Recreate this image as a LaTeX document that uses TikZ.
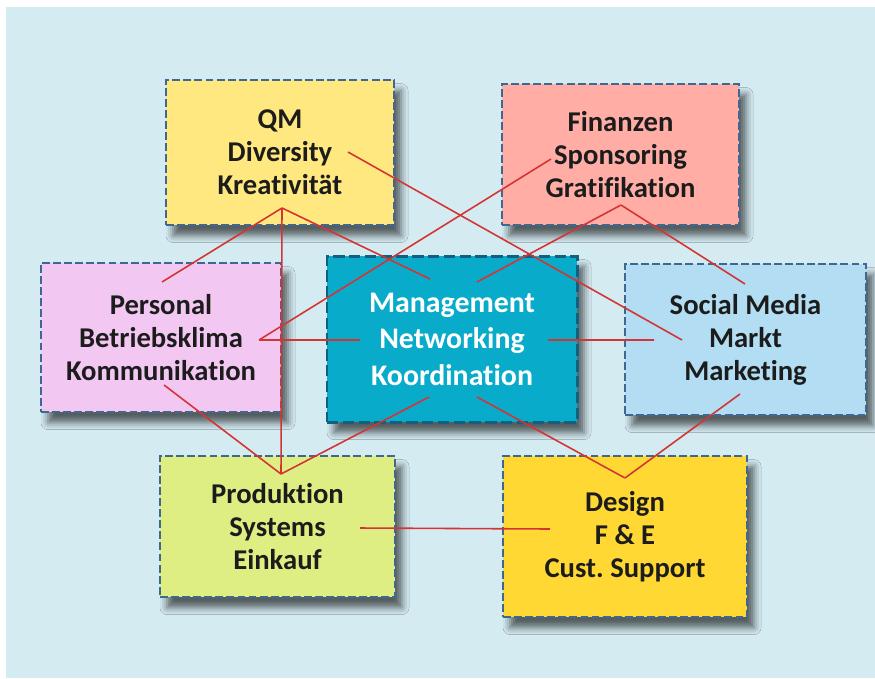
\documentclass[tikz,border=0pt]{standalone}
\usepackage{fontspec}
\setmainfont{Carlito}[Ligatures=NoCommon]
\usetikzlibrary{calc,shadows.blur}
\definecolor{bgblue}{RGB}{212,235,242}
\definecolor{boxline}{RGB}{62,104,146}
\definecolor{manline}{RGB}{18,96,128}
\definecolor{linkred}{RGB}{212,52,52}
\definecolor{txt}{RGB}{28,28,28}
\definecolor{qmyellow}{RGB}{255,232,128}
\definecolor{finpink}{RGB}{255,173,165}
\definecolor{perlilac}{RGB}{242,200,242}
\definecolor{manteal}{RGB}{8,172,202}
\definecolor{socblue}{RGB}{178,221,242}
\definecolor{progreen}{RGB}{222,238,130}
\definecolor{desgold}{RGB}{255,216,52}
\tikzset{
	box/.style={rectangle,draw=boxline,line width=1.1pt,dash pattern=on 4.5pt off 1.8pt,
		align=center,text=txt,font=\bfseries\fontsize{16.3}{18.8}\selectfont,
		blur shadow={shadow xshift=4pt,shadow yshift=-6pt,shadow blur radius=4pt,shadow opacity=60}},
	mainbox/.style={box,draw=manline,line width=1.7pt,dash pattern=on 6.5pt off 2.5pt,
		text=white,font=\bfseries\fontsize{17}{20.8}\selectfont},
	edge/.style={color=linkred, line width=0.9pt}
}
\begin{document}
\begin{tikzpicture}
	\useasboundingbox (0,0) rectangle (17.5,-13.56);
	\fill[bgblue] (0.12,-0.14) rectangle (17.5,-13.56);
	
	\node[box,fill=qmyellow,minimum width=4.56cm,minimum height=2.9cm] (QM) at (5.6,-3.05) {QM\\Diversity\\Kreativität};
	\node[box,fill=finpink,minimum width=4.74cm,minimum height=2.82cm] (FIN) at (12.41,-3.09) {Finanzen\\Sponsoring\\Gratifikation};
	\node[box,fill=perlilac,minimum width=4.8cm,minimum height=2.98cm] (PER) at (3.22,-6.75) {Personal\\Betriebsklima\\Kommunikation};
	\node[mainbox,fill=manteal,minimum width=5cm,minimum height=3.32cm] (MAN) at (9.04,-6.78) {Management\\Networking\\Koordination};
	\node[box,fill=socblue,minimum width=4.82cm,minimum height=3.02cm] (SOC) at (14.91,-6.79) {Social Media\\Markt\\Marketing};
	\node[box,fill=progreen,minimum width=4.7cm,minimum height=2.82cm] (PRO) at (5.55,-10.53) {Produktion\\Systems\\Einkauf};
	\node[box,fill=desgold,minimum width=4.88cm,minimum height=3.22cm] (DES) at (12.5,-10.73) {Design\\F \& E\\Cust.\ Support};
	
	% link points inside the boxes
	\coordinate (QMb) at ($(QM)+(0.04,-1.11)$);
	\coordinate (QMr) at ($(QM)+(1.36,0.01)$);
	\coordinate (FINl) at ($(FIN)+(-1.39,-0.09)$);
	\coordinate (FINb) at ($(FIN)+(0.01,-1.01)$);
	\coordinate (PERt) at ($(PER)+(0.02,1.11)$);
	\coordinate (PERr) at ($(PER)+(1.96,-0.05)$);
	\coordinate (PERb) at ($(PER)+(0.06,-0.95)$);
	\coordinate (MANtl) at ($(MAN)+(-0.44,1.2)$);
	\coordinate (MANtr) at ($(MAN)+(0.5,1.14)$);
	\coordinate (MANl) at ($(MAN)+(-1.84,-0.02)$);
	\coordinate (MANr) at ($(MAN)+(1.92,-0.02)$);
	\coordinate (MANbl) at ($(MAN)+(-0.46,-1.16)$);
	\coordinate (MANbr) at ($(MAN)+(0.5,-1.16)$);
	\coordinate (SOCt) at ($(SOC)+(-0.01,1.11)$);
	\coordinate (SOCd) at ($(SOC)+(-1.27,-0.01)$);
	\coordinate (SOCl) at ($(SOC)+(-1.83,-0.01)$);
	\coordinate (SOCb) at ($(SOC)+(-0.11,-1.09)$);
	\coordinate (PROt) at ($(PRO)+(0.07,1.05)$);
	\coordinate (PROr) at ($(PRO)+(1.65,-0.03)$);
	\coordinate (DESt) at ($(DES)+(0,1.17)$);
	\coordinate (DESl) at ($(DES)+(-1.5,0.15)$);
	
	\draw[edge] (QMb) -- (PERt);
	\draw[edge] (QMb) -- (PROt);
	\draw[edge] (QMb) -- (MANtl);
	\draw[edge] (QMr) -- (SOCd);
	\draw[edge] (FINl) -- (PERr);
	\draw[edge] (FINb) -- (MANtr);
	\draw[edge] (FINb) -- (SOCt);
	\draw[edge] (PERr) -- (MANl);
	\draw[edge] (MANr) -- (SOCl);
	\draw[edge] (PERb) -- (PROt);
	\draw[edge] (MANbl) -- (PROt);
	\draw[edge] (MANbr) -- (DESt);
	\draw[edge] (SOCb) -- (DESt);
	\draw[edge] (PROr) -- (DESl);
\end{tikzpicture}
\end{document}
